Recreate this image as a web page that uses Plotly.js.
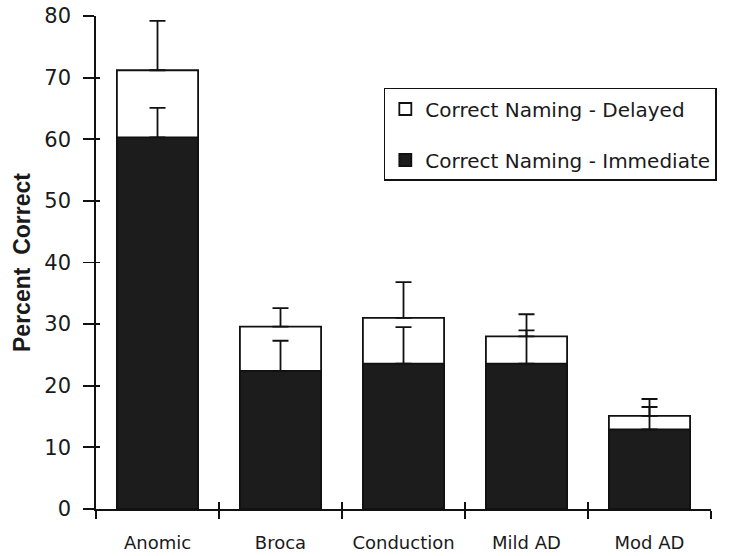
<!DOCTYPE html>
<html>
<head>
<meta charset="utf-8">
<script src="https://cdn.plot.ly/plotly-3.0.1.min.js"></script>
<style>html,body{margin:0;padding:0;background:#fff;}#chart{width:730px;height:556px;}</style>
</head>
<body>
<div id="chart"></div>
<script>
var groups = ["Anomic", "Broca", "Conduction", "Mild AD", "Mod AD"];
var delayed = [71.2, 29.6, 31.0, 28.0, 15.1];
var delayedErr = [8.0, 3.0, 5.8, 3.6, 2.75];
var immediate = [60.3, 22.4, 23.6, 23.6, 12.9];
var immediateErr = [4.8, 4.9, 5.9, 5.4, 3.65];
var yTicks = [0, 10, 20, 30, 40, 50, 60, 70, 80];

var zeros = groups.map(function () { return 0; });
var ink = "#111111";

var traces = [
  {
    type: "bar", name: "Correct Naming - Delayed", x: groups, y: delayed,
    legendgroup: "d",
    marker: {color: "#ffffff", line: {color: ink, width: 1.8}},
    error_y: {type: "data", symmetric: false, array: delayedErr, arrayminus: zeros,
              color: ink, thickness: 1.8, width: 8}
  },
  {
    type: "bar", name: "Correct Naming - Immediate", x: groups, y: immediate,
    legendgroup: "i",
    marker: {color: "#1c1c1c", line: {color: ink, width: 1.8}},
    error_y: {type: "data", symmetric: false, array: immediateErr, arrayminus: zeros,
              color: ink, thickness: 1.8, width: 8}
  },
  {
    type: "scatter", mode: "markers", x: groups, y: immediate, xaxis: "x2", yaxis: "y2",
    marker: {opacity: 0}, showlegend: false, hoverinfo: "skip"
  }
];

var layout = {
  width: 730, height: 556,
  margin: {l: 96, r: 19, t: 16, b: 47},
  paper_bgcolor: "#ffffff", plot_bgcolor: "#ffffff",
  barmode: "overlay", bargap: 0.34,
  font: {family: "DejaVu Sans, sans-serif", color: "#1a1a1a"},
  showlegend: true,
  legend: {
    x: 0.468, y: 0.854, xanchor: "left", yanchor: "top",
    bgcolor: "#ffffff", bordercolor: ink, borderwidth: 1.5,
    font: {family: "DejaVu Sans, sans-serif", size: 20, color: "#1a1a1a"},
    traceorder: "grouped", tracegroupgap: 22
  },
  xaxis: {
    type: "category", categoryarray: groups, range: [-0.5, 4.5],
    showline: true, linecolor: ink, linewidth: 1.8,
    ticks: "outside", ticklen: 8, tickwidth: 1.8, tickcolor: ink, tickson: "boundaries",
    showgrid: false, zeroline: false, fixedrange: true,
    tickfont: {family: "DejaVu Sans, sans-serif", size: 18, color: "#1a1a1a"},
    ticklabelstandoff: 17
  },
  xaxis2: {
    type: "category", categoryarray: groups, range: [-0.5, 4.5], overlaying: "x",
    anchor: "y", showline: false, ticks: "inside", ticklen: 7, tickwidth: 1.8,
    tickcolor: ink, tickson: "boundaries", showticklabels: false, showgrid: false,
    zeroline: false
  },
  yaxis: {
    range: [0, 80], tickvals: yTicks,
    showline: true, linecolor: ink, linewidth: 1.8,
    ticks: "outside", ticklen: 11, tickwidth: 1.8, tickcolor: ink,
    showgrid: false, zeroline: false,
    tickfont: {family: "DejaVu Sans, sans-serif", size: 21, color: "#1a1a1a"},
    ticklabelstandoff: 8,
    title: {text: "Percent  Correct", standoff: 7,
            font: {family: "Liberation Sans, Arial, sans-serif", size: 23, color: "#1a1a1a", weight: "bold"}}
  },
  yaxis2: {
    range: [0, 80], tickvals: yTicks, overlaying: "y", side: "left", anchor: "x",
    showline: false, ticks: "inside", ticklen: 4, tickwidth: 1.8, tickcolor: ink,
    showticklabels: false, showgrid: false, zeroline: false
  }
};

Plotly.newPlot("chart", traces, layout, {displayModeBar: false, staticPlot: true});
</script>
</body>
</html>
